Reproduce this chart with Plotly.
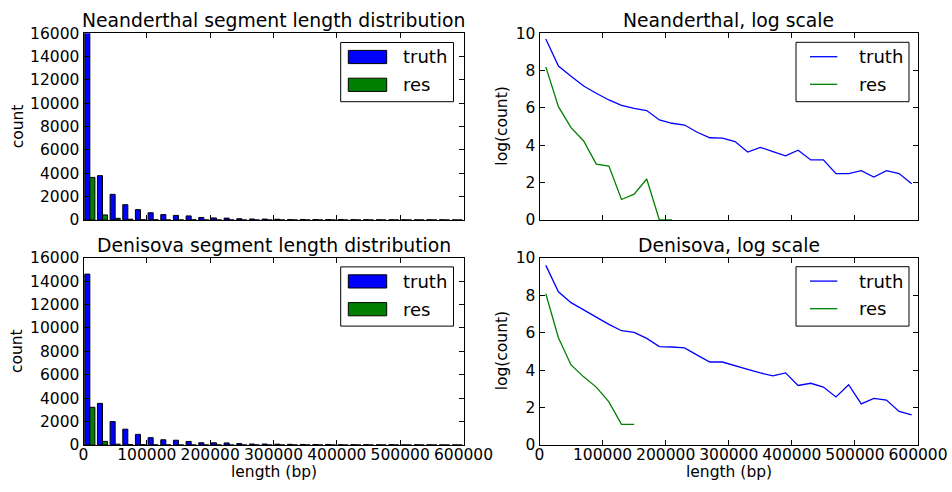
import numpy as np
import plotly.graph_objects as go

# ---- data ----
length_bp = [10000, 30000, 50000, 70000, 90000, 110000, 130000, 150000, 170000, 190000,
             210000, 230000, 250000, 270000, 290000, 310000, 330000, 350000, 370000, 390000,
             410000, 430000, 450000, 470000, 490000, 510000, 530000, 550000, 570000, 590000]

nean_truth = [16300, 3800, 2200, 1313, 889, 620, 464, 395, 351, 213,
              178, 162, 110, 82, 80, 67, 38, 49, 39, 31,
              42, 25, 25, 12, 12, 14, 10, 14, 12, 7]
nean_res = [3650, 433, 141, 69, 20, 18, 3, 4, 9, 1,
            1, 0, 0, 0, 0, 0, 0, 0, 0, 0,
            0, 0, 0, 0, 0, 0, 0, 0, 0, 0]

deni_truth = [14600, 3560, 2000, 1353, 907, 626, 446, 408, 296, 191,
              187, 178, 121, 84, 84, 68, 57, 47, 40, 47,
              24, 27, 22, 13, 25, 9, 12, 11, 6, 5]
deni_res = [3220, 308, 72, 38, 22, 10, 3, 3, 0, 0,
            0, 0, 0, 0, 0, 0, 0, 0, 0, 0,
            0, 0, 0, 0, 0, 0, 0, 0, 0, 0]

series_names = ["truth", "res"]
titles = ["Neanderthal segment length distribution", "Neanderthal, log scale",
          "Denisova segment length distribution", "Denisova, log scale"]
xlabel = "length (bp)"
ylabel_hist = "count"
ylabel_log = "log(count)"


def log_counts(c):
    arr = np.array(c, dtype=float)
    out = np.full(arr.shape, np.nan)
    m = arr > 0
    out[m] = np.log(arr[m])
    return [None if np.isnan(v) else float(v) for v in out]


W, H = 952, 492
FONT = "DejaVu Sans"
BLUE = "#0000ff"
GREEN = "#008000"
COLORS = [BLUE, GREEN]


def px(x):
    return x / W


def py(y):
    return 1 - y / H


xl = [px(83.5), px(463.5)]
xr = [px(539.5), px(918)]
yt = [py(220), py(33.3)]
yb = [py(445), py(257.7)]

fig = go.Figure()

# histograms
for (truth, res, xa, ya) in [(nean_truth, nean_res, "x", "y"),
                             (deni_truth, deni_res, "x3", "y3")]:
    for vals, name, col in [(truth, series_names[0], BLUE), (res, series_names[1], GREEN)]:
        fig.add_trace(go.Bar(x=length_bp, y=vals, name=name, xaxis=xa, yaxis=ya,
                             showlegend=False,
                             marker=dict(color=col, line=dict(color="black", width=1))))

# log-scale lines
for (truth, res, xa, ya) in [(nean_truth, nean_res, "x2", "y2"),
                             (deni_truth, deni_res, "x4", "y4")]:
    for vals, name, col in [(truth, series_names[0], BLUE), (res, series_names[1], GREEN)]:
        fig.add_trace(go.Scatter(x=length_bp, y=log_counts(vals), mode="lines", name=name,
                                 xaxis=xa, yaxis=ya, showlegend=False,
                                 line=dict(color=col, width=1.3), connectgaps=False))

TICK = 15.5
tickfont = dict(family=FONT, size=TICK, color="black")
base = dict(showline=True, linecolor="black", linewidth=1, mirror="ticks", ticks="inside",
            ticklen=5, tickcolor="black", showgrid=False, zeroline=False, tickfont=tickfont,
            fixedrange=True, automargin=False)

xcommon = dict(base, range=[0, 600000], dtick=100000, tick0=0, tickformat="d")

fig.update_layout(
    width=W, height=H, margin=dict(l=0, r=0, t=0, b=0),
    paper_bgcolor="white", plot_bgcolor="white",
    barmode="group", bargap=0.2, bargroupgap=0,
    font=dict(family=FONT, color="black"),
    showlegend=False,
    xaxis=dict(xcommon, domain=xl, anchor="y", showticklabels=False),
    yaxis=dict(base, domain=yt, anchor="x", range=[0, 16000], dtick=2000, tickformat="d"),
    xaxis2=dict(xcommon, domain=xr, anchor="y2", showticklabels=False),
    yaxis2=dict(base, domain=yt, anchor="x2", range=[0, 10], dtick=2),
    xaxis3=dict(xcommon, domain=xl, anchor="y3", ticklabelstandoff=-5),
    yaxis3=dict(base, domain=yb, anchor="x3", range=[0, 16000], dtick=2000, tickformat="d"),
    xaxis4=dict(xcommon, domain=xr, anchor="y4", ticklabelstandoff=-5),
    yaxis4=dict(base, domain=yb, anchor="x4", range=[0, 10], dtick=2),
)

TITLE = 18.8
LABEL = 15.5
LEG = 18

# subplot titles
for text, dom_x, dom_y in [(titles[0], xl, yt), (titles[1], xr, yt),
                           (titles[2], xl, yb), (titles[3], xr, yb)]:
    fig.add_annotation(text=text, x=(dom_x[0] + dom_x[1]) / 2, y=dom_y[1], xref="paper",
                       yref="paper", xanchor="center", yanchor="bottom", showarrow=False,
                       font=dict(family=FONT, size=TITLE, color="black"), yshift=0)

# axis titles
for dom_y in [yt, yb]:
    fig.add_annotation(text=ylabel_hist, x=px(17.7), y=(dom_y[0] + dom_y[1]) / 2,
                       xref="paper", yref="paper", textangle=-90, showarrow=False,
                       xanchor="center", yanchor="middle",
                       font=dict(family=FONT, size=LABEL, color="black"))
    fig.add_annotation(text=ylabel_log, x=px(502), y=(dom_y[0] + dom_y[1]) / 2,
                       xref="paper", yref="paper", textangle=-90, showarrow=False,
                       xanchor="center", yanchor="middle",
                       font=dict(family=FONT, size=LABEL, color="black"))
for dom_x in [xl, xr]:
    fig.add_annotation(text=xlabel, x=(dom_x[0] + dom_x[1]) / 2, y=py(472),
                       xref="paper", yref="paper", showarrow=False,
                       xanchor="center", yanchor="middle",
                       font=dict(family=FONT, size=LABEL, color="black"))

# legends (drawn in the matplotlib style: framed box, wide handles)
for dy in [0, 224.4]:
    # histogram legend
    fig.add_shape(type="rect", xref="paper", yref="paper",
                  x0=px(340.7), x1=px(453.5), y0=py(101.7 + dy), y1=py(42.5 + dy),
                  line=dict(color="black", width=1), fillcolor="white", layer="above")
    for i, (ymid) in enumerate([57.0, 84.8]):
        fig.add_shape(type="rect", xref="paper", yref="paper",
                      x0=px(348.3), x1=px(386.7), y0=py(ymid + 6.6 + dy), y1=py(ymid - 6.6 + dy),
                      line=dict(color="black", width=1), fillcolor=COLORS[i], layer="above")
        fig.add_annotation(text=series_names[i], x=px(401.2), y=py(ymid + dy), xref="paper",
                           yref="paper", xanchor="left", yanchor="middle", showarrow=False,
                           font=dict(family=FONT, size=LEG, color="black"))
    # log legend
    fig.add_shape(type="rect", xref="paper", yref="paper",
                  x0=px(796), x1=px(909), y0=py(101.7 + dy), y1=py(42.3 + dy),
                  line=dict(color="black", width=1), fillcolor="white", layer="above")
    for i, (ymid) in enumerate([56.7, 84.3]):
        fig.add_shape(type="line", xref="paper", yref="paper",
                      x0=px(810), x1=px(837.3), y0=py(ymid + dy), y1=py(ymid + dy),
                      line=dict(color=COLORS[i], width=1.3), layer="above")
        fig.add_annotation(text=series_names[i], x=px(857.2), y=py(ymid + dy), xref="paper",
                           yref="paper", xanchor="left", yanchor="middle", showarrow=False,
                           font=dict(family=FONT, size=LEG, color="black"))

fig.write_html("out.html")
